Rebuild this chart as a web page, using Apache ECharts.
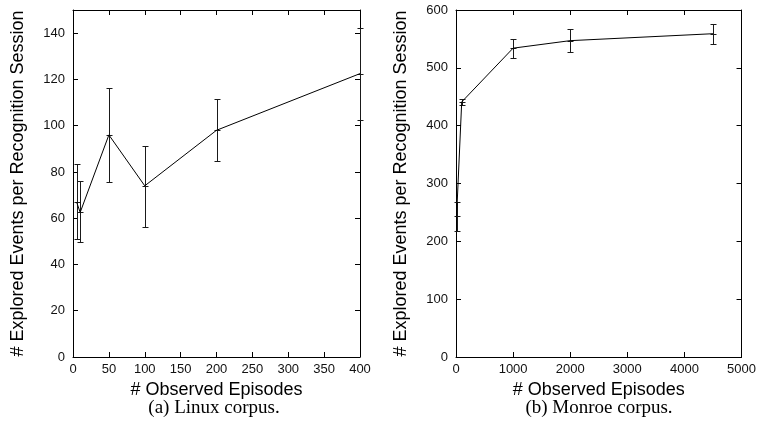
<!DOCTYPE html>
<html><head><meta charset="utf-8">
<script src="https://cdn.jsdelivr.net/npm/echarts@6/dist/echarts.min.js"></script>
<style>html,body{margin:0;padding:0;background:#fff}#c{width:759px;height:434px}</style>
</head><body><div id="c"></div>
<script>
// ---- data ----
const linuxX    = [5, 10, 50, 100, 200, 400];
const linuxMean = [67, 62.5, 96, 74, 98, 122.5];
const linuxLow  = [51, 49.5, 75.7, 56.3, 84.6, 102.5];
const linuxHigh = [83.5, 76, 116.3, 91.2, 111.4, 142.4];

const monroeX    = [10, 100, 1000, 2000, 4500];
const monroeMean = [243, 441, 534, 547, 559];
const monroeLow  = [218, 436, 517, 527, 542];
const monroeHigh = [268, 446, 550, 567, 576];

const linuxXRange  = [0, 400, 50];
const linuxYRange  = [0, 150, 20];
const monroeXRange = [0, 5000, 1000];
const monroeYRange = [0, 600, 100];

const xName = '# Observed Episodes';
const yName = '# Explored Events per Recognition Session';
const captions = ['(a) Linux corpus.', '(b) Monroe corpus.'];

// ---- chart ----
const FONT = 'Liberation Sans';
const chart = echarts.init(document.getElementById('c'), null, {renderer: 'canvas'});

function errRender(params, api) {
  const x = api.value(0), lo = api.value(1), hi = api.value(2), m = api.value(3);
  const a = api.coord([x, lo]), b = api.coord([x, hi]), p = api.coord([x, m]);
  const cx = Math.round(a[0]) + 0.5;
  const yl = Math.round(a[1]) + 0.5, yh = Math.round(b[1]) + 0.5, ym = Math.round(p[1]) + 0.5;
  const c = 3, s = 3;
  const st = {stroke: '#1a1a1a', lineWidth: 1};
  return {type: 'group', children: [
    {type: 'line', shape: {x1: cx, y1: yl, x2: cx, y2: yh}, style: st},
    {type: 'line', shape: {x1: cx - c, y1: yl, x2: cx + c, y2: yl}, style: st},
    {type: 'line', shape: {x1: cx - c, y1: yh, x2: cx + c, y2: yh}, style: st},
    {type: 'line', shape: {x1: cx - s, y1: ym, x2: cx + s, y2: ym}, style: st},
    {type: 'line', shape: {x1: cx, y1: ym - s, x2: cx, y2: ym + s}, style: st}
  ]};
}

function axisPair(kind, grid, range, named) {
  const common = {
    type: 'value', gridIndex: grid, min: range[0], max: range[1], interval: range[2],
    splitLine: {show: false},
    axisLine: {show: true, onZero: false, lineStyle: {color: '#000', width: 1}},
    axisTick: {show: true, inside: true, length: 5, lineStyle: {color: '#000', width: 1}}
  };
  const main = Object.assign({}, common, {
    position: kind === 'x' ? 'bottom' : 'left',
    axisLabel: {show: true, color: '#111', fontFamily: FONT, fontSize: 13,
                margin: kind === 'x' ? 6 : 8, showMaxLabel: range[1] % range[2] === 0,
                formatter: v => String(v)},
    name: named,
    nameLocation: 'middle',
    nameGap: kind === 'x' ? 21 : 46,
    nameRotate: kind === 'x' ? 0 : 90,
    nameTextStyle: {color: '#000', fontFamily: FONT, fontSize: 18}
  });
  const mirror = Object.assign({}, common, {
    position: kind === 'x' ? 'top' : 'right',
    axisLabel: {show: false}
  });
  return [main, mirror];
}

const xAxes = [].concat(axisPair('x', 0, linuxXRange, xName), axisPair('x', 1, monroeXRange, xName));
const yAxes = [].concat(axisPair('y', 0, linuxYRange, yName), axisPair('y', 1, monroeYRange, yName));

function pairs(xs, ys) { return xs.map((x, i) => [x, ys[i]]); }
function errData(xs, lo, hi, m) { return xs.map((x, i) => [x, lo[i], hi[i], m[i]]); }

chart.setOption({
  animation: false,
  backgroundColor: '#fff',
  grid: [
    {left: 73, top: 10, width: 287, height: 347},
    {left: 456, top: 10, width: 287, height: 347}
  ],
  xAxis: xAxes,
  yAxis: yAxes,
  series: [
    {type: 'line', xAxisIndex: 0, yAxisIndex: 0, data: pairs(linuxX, linuxMean),
     symbol: 'none', lineStyle: {color: '#000', width: 1}},
    {type: 'custom', xAxisIndex: 0, yAxisIndex: 0, renderItem: errRender,
     data: errData(linuxX, linuxLow, linuxHigh, linuxMean), clip: false},
    {type: 'line', xAxisIndex: 2, yAxisIndex: 2, data: pairs(monroeX, monroeMean),
     symbol: 'none', lineStyle: {color: '#000', width: 1}},
    {type: 'custom', xAxisIndex: 2, yAxisIndex: 2, renderItem: errRender,
     data: errData(monroeX, monroeLow, monroeHigh, monroeMean), clip: false}
  ],
  graphic: [
    {type: 'text', style: {text: captions[0], x: 214, y: 408,
      textAlign: 'center', textVerticalAlign: 'middle', fill: '#000',
      font: '19px "Liberation Serif"'}},
    {type: 'text', style: {text: captions[1], x: 599, y: 408,
      textAlign: 'center', textVerticalAlign: 'middle', fill: '#000',
      font: '19px "Liberation Serif"'}}
  ]
});
</script></body></html>
